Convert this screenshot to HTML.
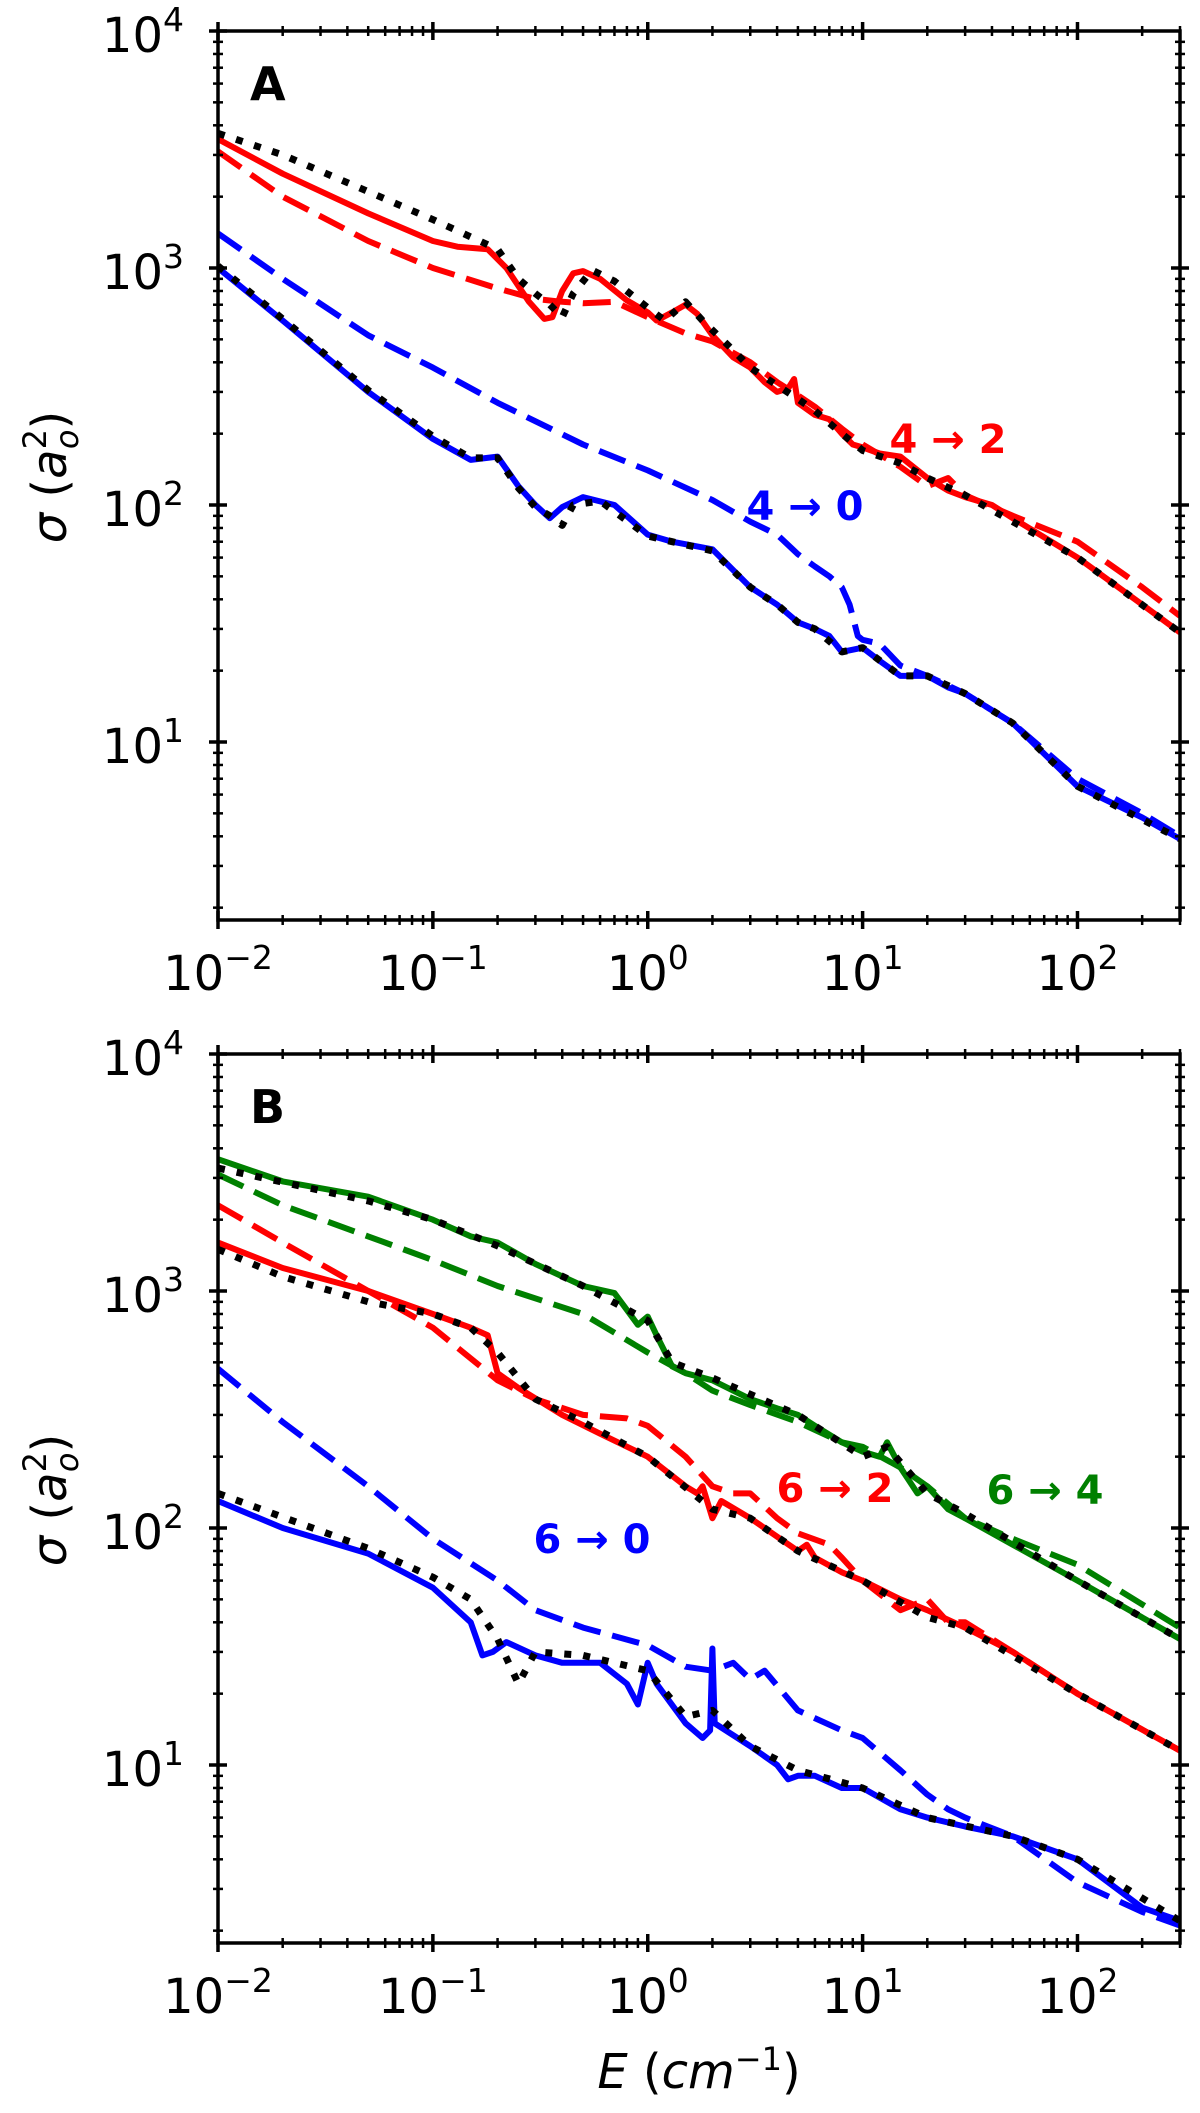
<!DOCTYPE html>
<html><head><meta charset="utf-8"><style>
html,body{margin:0;padding:0;background:#fff;}
svg{display:block;}
text{font-family:"DejaVu Sans","Liberation Sans",sans-serif;}
</style></head>
<body>
<svg id="fig" width="1200" height="2113" viewBox="0 0 1200 2113" xmlns="http://www.w3.org/2000/svg">
<g id="panelA"></g>
<g id="panelB"></g>
<text x="699" y="2088" text-anchor="middle" font-size="48"><tspan font-style="italic">E</tspan> (<tspan font-style="italic">cm</tspan><tspan font-size="32" dy="-18">−1</tspan><tspan dy="18">)</tspan></text>
</svg>
<script>
// ---- data: energies (cm^-1) and cross sections (a0^2) ----
// Panel A, 4 -> 2
const eA42full = [0.01,0.02,0.05,0.1,0.13,0.18,0.22,0.28,0.33,0.36,0.4,0.45,0.5,0.6,0.8,1.0,1.1,1.3,1.5,1.7,2,2.5,3,3.5,4,4.5,4.8,5,6,7,8,9,10,12,15,20,25,30,40,50,100,200,300];
const sA42full = [3500,2500,1700,1300,1230,1200,1000,720,610,620,800,950,970,900,730,650,600,650,700,640,520,420,380,330,300,310,340,270,240,230,200,180,175,165,160,130,115,108,100,88,60,38,29];
const eA42dash = [0.01,0.02,0.05,0.1,0.2,0.3,0.4,0.5,0.7,1,1.5,2,3,4,5,6,8,10,15,20,25,30,50,100,200,300];
const sA42dash = [3100,2000,1300,1000,820,740,720,710,720,620,530,490,400,330,290,260,210,180,145,120,130,110,90,70,45,34];
const eA42ref = [0.01,0.02,0.05,0.1,0.2,0.25,0.3,0.35,0.4,0.45,0.55,0.7,1,1.2,1.5,1.8,2.5,3,4,5,6,8,10,15,20,30,50,100,300];
const sA42ref = [3700,3000,2100,1600,1200,900,780,700,620,780,980,880,680,600,720,600,450,380,320,280,250,200,170,150,130,110,85,60,29];
// Panel A, 4 -> 0
const eA40full = [0.01,0.02,0.05,0.1,0.15,0.2,0.25,0.3,0.35,0.4,0.5,0.7,1,1.3,2,3,4,5,6,7,8,10,12,15,20,25,30,50,100,200,300];
const sA40full = [1000,600,300,190,155,160,120,100,88,98,108,100,75,70,65,45,38,32,30,28,24,25,22,19,19,17,16,12,6.5,4.8,3.9];
const eA40dash = [0.01,0.02,0.05,0.1,0.2,0.5,1,2,3,4,5,6,7,8,8.7,9.5,10,12,15,20,30,50,100,200,300];
const sA40dash = [1400,900,520,380,270,180,140,105,85,75,62,55,50,45,38,28,27,26,21,19,16,12,7,5,4];
const eA40ref = [0.01,0.02,0.05,0.1,0.15,0.2,0.25,0.3,0.35,0.4,0.45,0.6,1,1.3,2,3,4,5,6,8,10,15,20,30,50,100,300];
const sA40ref = [1020,610,305,195,158,158,118,98,90,82,100,104,74,70,64,45,38,32,30,24,25,19,19,16,12,6.5,3.9];
// Panel B, 6 -> 4
const eB64full = [0.01,0.02,0.05,0.1,0.15,0.2,0.3,0.5,0.7,0.9,1.0,1.1,1.3,1.5,2,3,4,5,6,8,10,12,13,15,18,20,25,30,50,100,300];
const sB64full = [3600,2900,2500,2000,1700,1600,1300,1050,980,720,780,650,480,450,420,350,320,300,270,230,210,200,230,180,140,150,120,110,85,60,34];
const eB64dash = [0.01,0.02,0.05,0.1,0.2,0.5,1,1.5,2,3,5,8,10,15,20,30,50,100,300];
const sB64dash = [3100,2300,1700,1350,1050,800,550,450,380,330,280,230,220,180,150,110,90,70,38];
const eB64ref = [0.01,0.05,0.1,0.2,0.5,1,1.3,2,5,10,13,20,30,100,300];
const sB64ref = [3300,2400,2000,1550,1050,750,500,430,300,200,220,140,115,60,34];
// Panel B, 6 -> 2
const eB62full = [0.01,0.02,0.05,0.1,0.15,0.18,0.2,0.25,0.4,0.6,1,1.5,1.7,1.8,2,2.2,3,5,5.5,6,8,10,15,20,30,50,100,300];
const sB62full = [1600,1250,1000,800,700,650,450,390,300,250,200,150,140,150,110,130,110,80,85,75,65,60,50,45,38,30,20,11.5];
const eB62dash = [0.01,0.02,0.05,0.1,0.2,0.3,0.5,0.8,1,1.5,2,2.5,3,4,5,7,8,10,15,20,25,30,50,100,300];
const sB62dash = [2300,1600,1000,700,420,350,300,290,270,200,150,140,140,110,95,85,75,60,45,50,40,40,30,20,11.5];
const eB62ref = [0.01,0.02,0.05,0.1,0.15,0.2,0.3,0.5,1,2,3,5,10,20,30,100,300];
const sB62ref = [1500,1150,900,800,700,550,350,280,200,120,110,80,60,42,38,20,11.5];
// Panel B, 6 -> 0
const eB60full = [0.01,0.02,0.05,0.1,0.15,0.17,0.19,0.22,0.3,0.4,0.6,0.8,0.9,1.0,1.1,1.5,1.8,1.95,2.0,2.05,3,4,4.5,5,6,8,10,15,20,30,50,100,200,300];
const sB60full = [130,100,78,56,40,29,30,33,29,27,27,22,18,27,22,15,13,14,31,15,12,10,8.7,9,9,8,8,6.5,6,5.5,5,4,2.5,2.2];
const eB60dash = [0.01,0.02,0.05,0.1,0.2,0.3,0.5,1,1.5,2,2.5,3,3.5,5,8,10,15,20,25,30,50,100,200,300];
const sB60dash = [470,280,150,90,60,45,38,32,26,25,27,23,25,17,14,13,9.5,7.5,6.5,6,5,3.2,2.4,2.1];
const eB60ref = [0.01,0.05,0.1,0.15,0.2,0.25,0.3,0.5,0.7,1,1.5,2,3,5,10,20,50,100,300];
const sB60ref = [140,82,62,50,34,22,30,29,27,25,16,17,12,9.5,8,6,5,4,2.2];

const xTickExp = [-2,-1,0,1,2];
const yTickExp = [1,2,3,4];
const NS = "http://www.w3.org/2000/svg";

function mk(tag, attrs, parent){
  const el = document.createElementNS(NS, tag);
  for (const k in attrs) el.setAttribute(k, attrs[k]);
  parent.appendChild(el);
  return el;
}

function buildPanel(g, top, letter, series, labels){
  const L=218, R=1180, T=top, B=top+889;
  const xmin=Math.log10(0.01), xmax=Math.log10(300);
  const decY=237;
  const xS = v => L + (Math.log10(v)-xmin)/(xmax-xmin)*(R-L);
  const yS = v => T + (4-Math.log10(v))*decY;
  const cid = 'clip'+letter;
  const defs = mk('defs', {}, g);
  const cp = mk('clipPath', {id:cid}, defs);
  mk('rect', {x:L, y:T, width:R-L, height:B-T}, cp);
  const lines = mk('g', {'clip-path':'url(#'+cid+')'}, g);
  
  
  series.forEach(s=>{
    const d = s.e.map((e,i)=>(i?'L':'M')+xS(e).toFixed(1)+','+yS(s.s[i]).toFixed(1)).join(' ');
    const p = mk('path', {d:d, fill:'none', stroke:s.color, 'stroke-width':6, 'stroke-linejoin':'round'}, lines);
    if (s.style==='dash') p.setAttribute('stroke-dasharray','28 12');
    if (s.style==='dot') { p.setAttribute('stroke-dasharray','7 12'); p.setAttribute('stroke-width','7'); }
    
    
  });
  const fr = mk('rect', {x:L, y:T, width:R-L, height:B-T, fill:'none', stroke:'#000', 'stroke-width':3.5}, g);
  
  
  const tk = mk('g', {stroke:'#000'}, g);
  for (let ex=-2; ex<=2; ex++){
    for (let m=1; m<=9; m++){
      const v=m*Math.pow(10,ex); if (v>300) break;
      const x=xS(v), len=(m===1)?9:5, w=(m===1)?3.5:2.5;
      mk('line',{x1:x,x2:x,y1:B-len,y2:B+len,'stroke-width':w},tk);
      mk('line',{x1:x,x2:x,y1:T-len,y2:T+len,'stroke-width':w},tk);
    }
  }
  for (let ex=0; ex<=3; ex++){
    for (let m=1; m<=9; m++){
      const v=m*Math.pow(10,ex); if (v<1.75 || v>10000) continue;
      const y=yS(v), len=(m===1)?9:5, w=(m===1)?3.5:2.5;
      mk('line',{x1:L-len,x2:L+len,y1:y,y2:y,'stroke-width':w},tk);
      mk('line',{x1:R-len,x2:R+len,y1:y,y2:y,'stroke-width':w},tk);
    }
  }
  mk('line',{x1:L-9,x2:L+9,y1:T,y2:T,'stroke-width':3.5},tk);
  xTickExp.forEach(ex=>{
    const t = mk('text',{x:xS(Math.pow(10,ex)), y:B+70, 'text-anchor':'middle','font-size':48}, g);
    
    
    t.innerHTML = '10<tspan font-size="33" dy="-21">'+(ex<0?'−'+(-ex):ex)+'</tspan>';
  });
  yTickExp.forEach(ex=>{
    const t = mk('text',{x:184, y:yS(Math.pow(10,ex))+21, 'text-anchor':'end','font-size':48}, g);
    
    
    t.innerHTML = '10<tspan font-size="33" dy="-21">'+ex+'</tspan>';
  });
  const yc = top+446;
  const yt = mk('text',{x:0,y:0,'text-anchor':'middle','font-size':48,transform:'translate(66,'+yc+') rotate(-90)'}, g);
  
  
  yt.innerHTML = '<tspan font-style="italic">σ</tspan> (<tspan font-style="italic">a</tspan><tspan font-size="32" dy="-20">2</tspan><tspan font-size="32" font-style="italic" dx="-20" dy="32">o</tspan><tspan dy="-12">)</tspan>';
  const pl = mk('text',{x:250,y:top+69,'font-size':46,'font-weight':'bold'}, g);
  
  
  pl.textContent = letter;
  labels.forEach(lb=>{
    const t = mk('text',{x:lb.x,y:lb.y,'text-anchor':'middle','font-size':40,'font-weight':'bold',fill:lb.color}, g);
    
    
    t.textContent = lb.text;
  });
}

buildPanel(document.getElementById('panelA'), 31, 'A', [
  {e:eA42dash,s:sA42dash,color:'#ff0000',style:'dash',name:'red-dashed-4-2'},
  {e:eA42full,s:sA42full,color:'#ff0000',style:'solid',name:'red-solid-4-2'},
  {e:eA42ref,s:sA42ref,color:'#000',style:'dot',name:'black-dotted-4-2'},
  {e:eA40dash,s:sA40dash,color:'#0000ff',style:'dash',name:'blue-dashed-4-0'},
  {e:eA40full,s:sA40full,color:'#0000ff',style:'solid',name:'blue-solid-4-0'},
  {e:eA40ref,s:sA40ref,color:'#000',style:'dot',name:'black-dotted-4-0'}
],[
  {x:948,y:453,text:'4 → 2',color:'#ff0000'},
  {x:805,y:520,text:'4 → 0',color:'#0000ff'}
]);
buildPanel(document.getElementById('panelB'), 1054, 'B', [
  {e:eB64dash,s:sB64dash,color:'#008000',style:'dash',name:'green-dashed-6-4'},
  {e:eB64full,s:sB64full,color:'#008000',style:'solid',name:'green-solid-6-4'},
  {e:eB64ref,s:sB64ref,color:'#000',style:'dot',name:'black-dotted-6-4'},
  {e:eB62dash,s:sB62dash,color:'#ff0000',style:'dash',name:'red-dashed-6-2'},
  {e:eB62full,s:sB62full,color:'#ff0000',style:'solid',name:'red-solid-6-2'},
  {e:eB62ref,s:sB62ref,color:'#000',style:'dot',name:'black-dotted-6-2'},
  {e:eB60dash,s:sB60dash,color:'#0000ff',style:'dash',name:'blue-dashed-6-0'},
  {e:eB60full,s:sB60full,color:'#0000ff',style:'solid',name:'blue-solid-6-0'},
  {e:eB60ref,s:sB60ref,color:'#000',style:'dot',name:'black-dotted-6-0'}
],[
  {x:835,y:1502,text:'6 → 2',color:'#ff0000'},
  {x:1045,y:1504,text:'6 → 4',color:'#008000'},
  {x:592,y:1553,text:'6 → 0',color:'#0000ff'}
]);
</script>
</body></html>
